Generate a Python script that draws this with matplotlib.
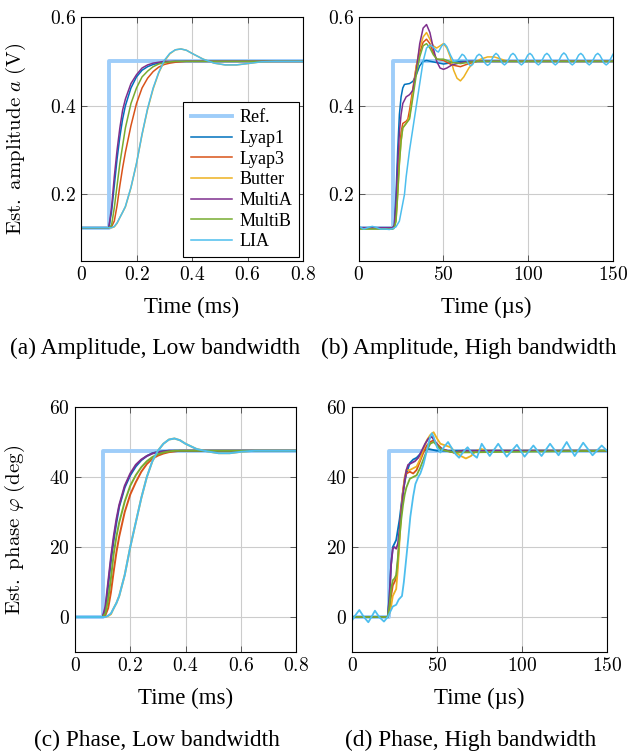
import matplotlib
matplotlib.use('Agg')
import matplotlib.pyplot as plt
from matplotlib.ticker import FuncFormatter

plt.rcParams['font.family'] = ['Liberation Serif', 'DejaVu Serif']
plt.rcParams['mathtext.fontset'] = 'cm'

labels = ['Lyap1', 'Lyap3', 'Butter', 'MultiA', 'MultiB', 'LIA']
colors = ['#0072BD', '#D95319', '#EDB120', '#7E2F8E', '#77AC30', '#4DBEEE']
ref_color = '#9ecdf9'

# ---- (a) amplitude, low bandwidth (time in ms) ----
t_lo = [0, 0.1, 0.11, 0.12, 0.13, 0.14, 0.15, 0.16, 0.18, 0.20, 0.22, 0.24, 0.26, 0.28,
        0.30, 0.32, 0.34, 0.36, 0.38, 0.40, 0.44, 0.48, 0.52, 0.56, 0.60, 0.65, 0.70, 0.80]
a_lo_ref_t = [0, 0.1, 0.1, 0.8]
a_lo_ref = [0.125, 0.125, 0.5, 0.5]
a_lo_lyap1 = [0.125, 0.125, 0.16, 0.22, 0.28, 0.33, 0.37, 0.40, 0.44, 0.465, 0.48, 0.488, 0.493, 0.496,
              0.498, 0.499, 0.5, 0.5, 0.5, 0.5, 0.5, 0.5, 0.5, 0.5, 0.5, 0.5, 0.5, 0.5]
a_lo_lyap3 = [0.125, 0.125, 0.127, 0.14, 0.175, 0.22, 0.26, 0.295, 0.355, 0.405, 0.44, 0.462, 0.477, 0.487,
              0.493, 0.496, 0.498, 0.499, 0.5, 0.5, 0.5, 0.5, 0.5, 0.5, 0.5, 0.5, 0.5, 0.5]
a_lo_butter = [0.125, 0.125, 0.125, 0.127, 0.135, 0.148, 0.16, 0.172, 0.215, 0.27, 0.335, 0.392, 0.438, 0.474,
               0.5, 0.517, 0.526, 0.528, 0.525, 0.518, 0.505, 0.496, 0.492, 0.492, 0.495, 0.499, 0.5, 0.5]
a_lo_multia = [0.125, 0.125, 0.17, 0.24, 0.30, 0.35, 0.39, 0.415, 0.45, 0.47, 0.485, 0.492, 0.496, 0.498,
               0.5, 0.5, 0.5, 0.5, 0.5, 0.5, 0.5, 0.5, 0.5, 0.5, 0.5, 0.5, 0.5, 0.5]
a_lo_multib = [0.125, 0.125, 0.13, 0.17, 0.22, 0.27, 0.31, 0.35, 0.405, 0.44, 0.465, 0.478, 0.488, 0.494,
               0.497, 0.499, 0.5, 0.5, 0.5, 0.5, 0.5, 0.5, 0.5, 0.5, 0.5, 0.5, 0.5, 0.5]
a_lo_lia = [0.125, 0.125, 0.125, 0.128, 0.136, 0.148, 0.16, 0.173, 0.216, 0.27, 0.336, 0.394, 0.44, 0.475,
            0.502, 0.518, 0.526, 0.528, 0.525, 0.518, 0.505, 0.496, 0.492, 0.492, 0.495, 0.499, 0.5, 0.5]

# ---- (b) amplitude, high bandwidth (time in us) ----
a_hi_ref_t = [0, 20.5, 20.5, 150]
a_hi_ref = [0.125, 0.125, 0.5, 0.5]
a_hi_lyap1_t = [0, 20, 21, 22, 23, 24, 25, 26, 27, 30, 32, 34, 36, 38, 40, 45, 50, 55, 60, 150]
a_hi_lyap1 = [0.125, 0.125, 0.13, 0.2, 0.3, 0.38, 0.42, 0.44, 0.448, 0.45, 0.455, 0.47, 0.49, 0.5, 0.502,
              0.498, 0.494, 0.497, 0.5, 0.5]
a_hi_lyap3_t = [0, 20, 21, 22, 23, 24, 25, 26, 28, 29, 30, 32, 34, 36, 38, 40, 42, 44, 46, 50, 55, 60, 65,
                70, 150]
a_hi_lyap3 = [0.125, 0.125, 0.127, 0.15, 0.22, 0.29, 0.34, 0.36, 0.365, 0.37, 0.39, 0.44, 0.49, 0.52, 0.543,
              0.55, 0.54, 0.52, 0.505, 0.502, 0.492, 0.488, 0.495, 0.5, 0.5]
a_hi_butter_t = [0, 20, 21, 22, 23, 24, 25, 26, 28, 30, 32, 34, 36, 38, 40, 42, 44, 46, 48, 50, 52, 54, 56,
                 58, 60, 62, 65, 68, 72, 76, 80, 84, 88, 150]
a_hi_butter = [0.125, 0.125, 0.126, 0.14, 0.2, 0.27, 0.32, 0.35, 0.36, 0.375, 0.43, 0.49, 0.53, 0.555,
               0.565, 0.55, 0.535, 0.53, 0.535, 0.54, 0.53, 0.51, 0.48, 0.462, 0.456, 0.465, 0.485, 0.498,
               0.505, 0.51, 0.51, 0.505, 0.5, 0.5]
a_hi_multia_t = [0, 20, 21, 22, 23, 24, 25, 26, 28, 30, 32, 34, 36, 38, 40, 42, 44, 46, 48, 50, 52, 55, 60,
                 65, 150]
a_hi_multia = [0.125, 0.125, 0.13, 0.18, 0.27, 0.34, 0.38, 0.405, 0.42, 0.425, 0.435, 0.48, 0.54, 0.575,
               0.583, 0.565, 0.53, 0.5, 0.485, 0.482, 0.485, 0.492, 0.497, 0.5, 0.5]
a_hi_multib_t = [0, 20, 21, 22, 23, 24, 25, 26, 28, 30, 32, 34, 36, 38, 40, 42, 44, 46, 50, 55, 60, 65, 70,
                 150]
a_hi_multib = [0.122, 0.122, 0.125, 0.14, 0.2, 0.27, 0.32, 0.35, 0.36, 0.37, 0.42, 0.47, 0.51, 0.535, 0.54,
               0.53, 0.515, 0.505, 0.505, 0.498, 0.495, 0.498, 0.5, 0.5]
a_hi_lia_t = [0, 3, 6, 8, 10, 13, 16, 18, 20, 22, 24, 26, 27, 28, 30, 32, 34, 36, 38, 40, 42, 44, 46, 47,
              49, 50.5, 52, 54, 56, 58.5,
              61, 62.2, 63.5, 64.7, 66, 67.2, 68.5, 69.7,
              71, 72.2, 73.5, 74.7, 76, 77.2, 78.5, 79.7,
              81, 82.2, 83.5, 84.7, 86, 87.2, 88.5, 89.7,
              91, 92.2, 93.5, 94.7, 96, 97.2, 98.5, 99.7,
              101, 102.2, 103.5, 104.7, 106, 107.2, 108.5, 109.7,
              111, 112.2, 113.5, 114.7, 116, 117.2, 118.5, 119.7,
              121, 122.2, 123.5, 124.7, 126, 127.2, 128.5, 129.7,
              131, 132.2, 133.5, 134.7, 136, 137.2, 138.5, 139.7,
              141, 142.2, 143.5, 144.7, 146, 147.2, 148.5, 150]
a_hi_lia = [0.128, 0.122, 0.126, 0.128, 0.126, 0.122, 0.122, 0.121, 0.123, 0.127, 0.14, 0.18, 0.2, 0.24,
            0.3, 0.35, 0.4, 0.45, 0.5, 0.53, 0.537, 0.532, 0.523, 0.521, 0.535, 0.54, 0.533, 0.515, 0.5,
            0.502,
            0.516, 0.513, 0.505, 0.495, 0.49, 0.493, 0.503, 0.512,
            0.516, 0.513, 0.504, 0.495, 0.491, 0.494, 0.504, 0.513,
            0.518, 0.514, 0.505, 0.496, 0.492, 0.496, 0.505, 0.514,
            0.518, 0.514, 0.505, 0.496, 0.492, 0.496, 0.505, 0.514,
            0.518, 0.514, 0.505, 0.496, 0.492, 0.496, 0.505, 0.514,
            0.518, 0.514, 0.505, 0.496, 0.492, 0.496, 0.505, 0.514,
            0.519, 0.515, 0.505, 0.496, 0.492, 0.496, 0.505, 0.514,
            0.518, 0.514, 0.505, 0.496, 0.492, 0.496, 0.505, 0.514,
            0.518, 0.514, 0.505, 0.496, 0.492, 0.496, 0.505, 0.516]

# ---- (c) phase, low bandwidth (time in ms) ----
p_lo_ref_t = [0, 0.1, 0.1, 0.8]
p_lo_ref = [0, 0, 47.5, 47.5]
p_lo_lyap1 = [0, 0, 2, 9, 16, 22, 27, 31.5, 37, 40.5, 43, 44.8, 46, 46.8, 47.2, 47.4, 47.5, 47.5, 47.5,
              47.5, 47.5, 47.5, 47.5, 47.5, 47.5, 47.5, 47.5, 47.5]
p_lo_lyap3 = [0, 0, 0.5, 2.5, 7, 13, 18.5, 23, 30, 35, 38.5, 41.5, 43.7, 45.2, 46.1, 46.7, 47.1, 47.3,
              47.5, 47.5, 47.5, 47.5, 47.5, 47.5, 47.5, 47.5, 47.5, 47.5]
p_lo_butter = [0, 0, 0, 0.3, 0.8, 2.5, 4, 6, 12, 20, 27, 34, 40, 44.5, 47.5, 49.5, 50.7, 51, 50.5, 49.5,
               48, 47.3, 46.8, 46.8, 47.2, 47.5, 47.5, 47.5]
p_lo_multia = [0, 0, 3, 10, 17, 23, 28, 32, 37.5, 41, 43.5, 45, 46, 46.7, 47.1, 47.3, 47.5, 47.5, 47.5,
               47.5, 47.5, 47.5, 47.5, 47.5, 47.5, 47.5, 47.5, 47.5]
p_lo_multib = [0, 0, 1, 5, 11, 18, 23, 27, 33, 37.5, 40.5, 42.8, 44.5, 45.7, 46.5, 47, 47.3, 47.5, 47.5,
               47.5, 47.5, 47.5, 47.5, 47.5, 47.5, 47.5, 47.5, 47.5]
p_lo_lia = [0, 0, 0, 0.4, 1, 2.5, 4, 6, 12, 20, 27, 34, 40, 44.5, 47.5, 49.5, 50.7, 51, 50.5, 49.5,
            48, 47.3, 46.8, 46.8, 47.2, 47.5, 47.5, 47.5]

# ---- (d) phase, high bandwidth (time in us) ----
p_hi_ref_t = [0, 21.5, 21.5, 150]
p_hi_ref = [0, 0, 47.5, 47.5]
p_hi_lyap1_t = [0, 21, 22, 23, 24, 26, 28, 30, 32, 34, 36, 38, 40, 42, 45, 50, 150]
p_hi_lyap1 = [0, 0, 6, 15, 20, 22, 28, 36, 41, 44, 45, 45.5, 46.5, 47.5, 48, 47.5, 47.5]
p_hi_lyap3_t = [0, 21, 22, 23, 24, 25, 26, 27, 28, 29, 30, 31, 32, 34, 36, 38, 40, 42, 44, 46, 48, 50, 53,
                56, 60, 65, 150]
p_hi_lyap3 = [0, 0, 2, 6, 9, 10, 11, 16, 24, 31, 36, 39.5, 41, 41.5, 41, 42, 44.5, 47, 49, 50, 50.5, 49.5,
              48, 47.5, 47, 47.5, 47.5]
p_hi_butter_t = [0, 21, 22, 23, 24, 25, 26, 27, 28, 29, 30, 31, 32, 34, 36, 38, 40, 42, 44, 46, 48, 50, 52,
                 55, 58, 61, 64, 67, 70, 73, 76, 80, 150]
p_hi_butter = [0, 0, 1, 3, 6, 7, 8, 14, 22, 30, 36, 40, 42, 42, 42.5, 43, 45, 48, 50.5, 52, 52.8, 51, 49.5,
               49, 48.5, 47, 46, 45.3, 46, 47.5, 48, 47.5, 47.5]
p_hi_multia_t = [0, 21, 22, 23, 24, 25, 26, 27, 28, 29, 30, 31, 32, 33, 35, 37, 39, 41, 43, 45, 47, 49, 51,
                 53, 56, 60, 65, 150]
p_hi_multia = [0, 0, 5, 15, 19.5, 20, 19.5, 21, 25, 30, 35, 39, 42, 43.5, 44, 44.5, 45.5, 47.5, 49.5, 51,
               51.5, 50, 48.5, 48, 47.5, 47, 47.5, 47.5]
p_hi_multib_t = [0, 21, 22, 23, 24, 25, 26, 27, 28, 29, 30, 31, 32, 34, 36, 38, 40, 42, 44, 46, 48, 50, 52,
                 55, 60, 150]
p_hi_multib = [0, 0, 3, 8, 10.5, 11, 12, 17, 23, 28, 32, 35, 37, 39.5, 40, 40.5, 42.5, 45, 47.5, 49.5, 50,
               49, 48, 47.5, 47, 47.5]
p_hi_lia_t = [0, 2, 4.3, 7, 9.6, 12, 13.5, 16, 18.8, 21, 22, 24, 26, 27.5, 29.4, 30.5, 31.4, 33, 34.3, 36,
              37.3, 39, 40.2, 42, 44, 46, 47, 48, 50, 52, 54, 56.5, 59, 61, 63, 66, 68, 71, 73.5, 76.3,
              81, 86, 91, 97, 101.5, 106.7, 111.5, 116.5, 121.5, 126.3, 131, 136, 141.5, 146.9, 150]
p_hi_lia = [-1, 0.5, 2, 0, -1.5, 0.5, 1.8, 0, -1.3, 0, 1, 3, 3.5, 5, 6, 10, 14.3, 22, 28.6, 34.5,
            38, 40, 41, 43.5, 47.5, 51.5, 52.5, 51.5, 48.5, 47, 48.5, 50, 48, 46.5, 45.5, 47.5, 48.5, 46.5,
            45.5, 49.5, 46, 49.5, 45.8, 49.2, 45.8, 49, 46, 49.5, 46.2, 50, 46, 49.8, 46.2, 49, 47.5]


def math_fmt(v, pos):
    return f'${v:g}$'


def style_axes(ax, xlim, ylim, xticks, yticks):
    ax.set_xlim(*xlim)
    ax.set_ylim(*ylim)
    ax.set_xticks(xticks)
    ax.set_yticks(yticks)
    ax.xaxis.set_major_formatter(FuncFormatter(math_fmt))
    ax.yaxis.set_major_formatter(FuncFormatter(math_fmt))
    ax.grid(True, color='#cccccc', linewidth=0.8)
    ax.set_axisbelow(True)
    ax.tick_params(direction='in', top=True, right=True, length=4, width=0.6,
                   labelsize=14, color='#444444')
    for s in ax.spines.values():
        s.set_linewidth(0.8)


fig = plt.figure(figsize=(6.3, 7.52), dpi=100)
ax_a = fig.add_axes([81 / 630, 1 - 261 / 752, 222 / 630, 244 / 752])
ax_b = fig.add_axes([358.7 / 630, 1 - 261 / 752, 254.3 / 630, 244 / 752])
ax_c = fig.add_axes([75 / 630, 1 - 652 / 752, 221 / 630, 245 / 752])
ax_d = fig.add_axes([352 / 630, 1 - 652 / 752, 255 / 630, 245 / 752])

lw_ref = 2.8
lw = 1.1

# (a)
ax_a.plot(a_lo_ref_t, a_lo_ref, color=ref_color, lw=lw_ref, label='Ref.')
for ys, lab, col in zip([a_lo_lyap1, a_lo_lyap3, a_lo_butter, a_lo_multia, a_lo_multib, a_lo_lia],
                        labels, colors):
    ax_a.plot(t_lo, ys, color=col, lw=lw, label=lab)
style_axes(ax_a, (0, 0.8), (0.05, 0.6), [0, 0.2, 0.4, 0.6, 0.8], [0.2, 0.4, 0.6])
ax_a.set_ylabel(r'$\mathrm{Est.\ amplitude}\ a\ \mathrm{(V)}$', fontsize=15)
ax_a.yaxis.set_label_coords(-0.24, 0.5)
leg = ax_a.legend(loc='lower right', fontsize=13, fancybox=False, edgecolor='black', framealpha=1,
                  handlelength=2.3, borderaxespad=0.2, labelspacing=0.2, borderpad=0.4,
                  handletextpad=0.4)
leg.get_frame().set_linewidth(0.8)

# (b)
ax_b.plot(a_hi_ref_t, a_hi_ref, color=ref_color, lw=lw_ref)
for ts, ys, col in zip([a_hi_lyap1_t, a_hi_lyap3_t, a_hi_butter_t, a_hi_multia_t, a_hi_multib_t, a_hi_lia_t],
                       [a_hi_lyap1, a_hi_lyap3, a_hi_butter, a_hi_multia, a_hi_multib, a_hi_lia], colors):
    ax_b.plot(ts, ys, color=col, lw=lw)
style_axes(ax_b, (0, 150), (0.05, 0.6), [0, 50, 100, 150], [0.2, 0.4, 0.6])

# (c)
ax_c.plot(p_lo_ref_t, p_lo_ref, color=ref_color, lw=lw_ref)
for ys, col in zip([p_lo_lyap1, p_lo_lyap3, p_lo_butter, p_lo_multia, p_lo_multib, p_lo_lia], colors):
    ax_c.plot(t_lo, ys, color=col, lw=1.4)
style_axes(ax_c, (0, 0.8), (-10, 60), [0, 0.2, 0.4, 0.6, 0.8], [0, 20, 40, 60])
ax_c.set_ylabel(r'$\mathrm{Est.\ phase}\ \varphi\ \mathrm{(deg)}$', fontsize=15)
ax_c.yaxis.set_label_coords(-0.215, 0.5)

# (d)
ax_d.plot(p_hi_ref_t, p_hi_ref, color=ref_color, lw=lw_ref)
for ts, ys, col in zip([p_hi_lyap1_t, p_hi_lyap3_t, p_hi_butter_t, p_hi_multia_t, p_hi_multib_t, p_hi_lia_t],
                       [p_hi_lyap1, p_hi_lyap3, p_hi_butter, p_hi_multia, p_hi_multib, p_hi_lia], colors):
    ax_d.plot(ts, ys, color=col, lw=1.3)
style_axes(ax_d, (0, 150), (-10, 60), [0, 50, 100, 150], [0, 20, 40, 60])

for ax, lab in [(ax_a, 'Time (ms)'), (ax_b, 'Time (µs)'), (ax_c, 'Time (ms)'), (ax_d, 'Time (µs)')]:
    ax.set_xlabel(lab, fontsize=16.5)
    ax.xaxis.set_label_coords(0.5, -0.145)

cap_fs = 16.8
fig.text(155 / 630, 1 - 348 / 752, '(a) Amplitude, Low bandwidth', ha='center', va='center', fontsize=cap_fs)
fig.text(469 / 630, 1 - 348 / 752, '(b) Amplitude, High bandwidth', ha='center', va='center', fontsize=cap_fs)
fig.text(157 / 630, 1 - 740 / 752, '(c) Phase, Low bandwidth', ha='center', va='center', fontsize=cap_fs)
fig.text(471 / 630, 1 - 740 / 752, '(d) Phase, High bandwidth', ha='center', va='center', fontsize=cap_fs)

fig.savefig('out.png', dpi=100)
